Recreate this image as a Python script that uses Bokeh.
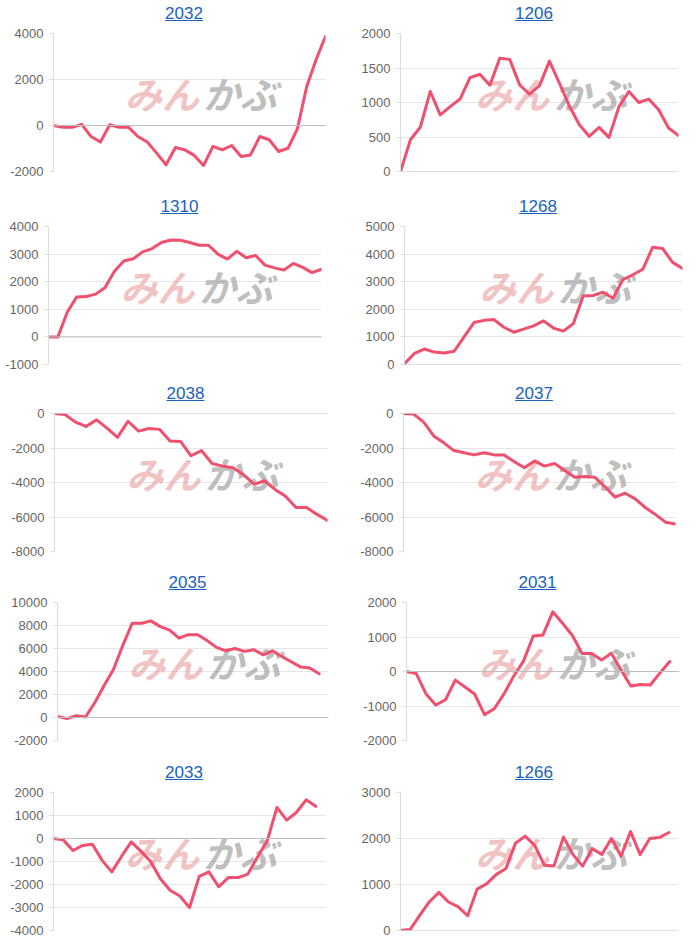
from bokeh.plotting import figure
from bokeh.models import Div, Span, FixedTicker, Range1d
from bokeh.layouts import row, column
from bokeh.embed import file_html
from bokeh.resources import INLINE
from bokeh.core.properties import value

# ---------------- data ----------------
titles = ["2032", "1206", "1310", "1268", "2038", "2037", "2035", "2031", "2033", "1266"]

s2032 = [0, -80, -80, 50, -480, -720, 30, -80, -80, -480, -720, -1200, -1710, -960, -1060,
         -1300, -1740, -910, -1060, -870, -1350, -1280, -480, -620, -1130, -990, -150, 1700, 2870, 3880]
s1206 = [0, 460, 645, 1160, 820, 940, 1050, 1360, 1410, 1250, 1640, 1625, 1255, 1120, 1245,
         1600, 1280, 950, 680, 510, 640, 495, 940, 1160, 1000, 1050, 895, 630, 520]
s1310 = [0, 0, 900, 1450, 1460, 1550, 1780, 2380, 2750, 2830, 3080, 3200, 3420, 3510, 3500,
         3420, 3320, 3320, 3000, 2820, 3100, 2870, 2950, 2600, 2500, 2420, 2660, 2520, 2330, 2450]
s1268 = [30, 400, 560, 450, 420, 480, 1000, 1520, 1600, 1630, 1350, 1170, 1280, 1400, 1580,
         1320, 1210, 1480, 2480, 2500, 2620, 2400, 3080, 3250, 3450, 4250, 4200, 3700, 3480]
s2038 = [0, -60, -500, -750, -370, -850, -1380, -450, -1020, -870, -920, -1600, -1620, -2450,
         -2150, -2900, -3050, -3150, -3550, -4100, -3900, -4400, -4800, -5450, -5450, -5850, -6200]
s2037 = [0, -30, -500, -1300, -1700, -2150, -2280, -2400, -2280, -2400, -2400, -2800, -3150, -2750,
         -3050, -2900, -3300, -3700, -3650, -3700, -4250, -4850, -4620, -4950, -5450, -5850, -6300, -6400]
s2035 = [100, -100, 150, 50, 1300, 2800, 4200, 6300, 8200, 8200, 8400, 7900, 7600, 6900, 7200,
         7200, 6700, 6100, 5800, 6000, 5750, 5900, 5450, 5800, 5300, 4850, 4400, 4300, 3800]
s2031 = [0, -60, -650, -970, -820, -250, -450, -660, -1250, -1080, -650, -130, 300, 1030, 1060,
         1730, 1400, 1050, 520, 520, 330, 530, 50, -420, -380, -390, -40, 290]
s2033 = [0, -60, -520, -300, -250, -950, -1450, -780, -150, -550, -1000, -1750, -2250, -2500, -3000,
         -1650, -1450, -2100, -1700, -1700, -1550, -800, -100, 1350, 800, 1130, 1680, 1400]
s1266 = [0, 20, 330, 620, 830, 620, 520, 320, 900, 1020, 1220, 1350, 1900, 2050, 1850,
         1420, 1400, 2030, 1650, 1400, 1780, 1650, 2000, 1620, 2150, 1650, 2000, 2020, 2130]

series = [s2032, s1206, s1310, s1268, s2038, s2037, s2035, s2031, s2033, s1266]

# number of category slots on each x axis
label_counts = [30, 29, 30, 29, 27, 28, 30, 29, 29, 30]

y_ticks = [
    [-2000, 0, 2000, 4000],
    [0, 500, 1000, 1500, 2000],
    [-1000, 0, 1000, 2000, 3000, 4000],
    [0, 1000, 2000, 3000, 4000, 5000],
    [-8000, -6000, -4000, -2000, 0],
    [-8000, -6000, -4000, -2000, 0],
    [-2000, 0, 2000, 4000, 6000, 8000, 10000],
    [-2000, -1000, 0, 1000, 2000],
    [-4000, -3000, -2000, -1000, 0, 1000, 2000],
    [0, 1000, 2000, 3000],
]

# ---------------- layout / style ----------------
LINE_COLOR = "#f0506e"
TITLE_COLOR = "#1a62c2"
FONT = "Liberation Sans"
cell_w = [350, 350]
border_l = [53, 50, 48, 54, 54, 53, 57, 56, 53, 50]
border_r = [25, 22, 29, 18, 23, 25, 22, 21, 25, 22]
row_div_h = [23, 18, 18, 18, 18]
row_bottom = [27, 21, 23, 24, 10]
FRAME_H = 138
TOP = 10
LINE_H = 18


def make_cell(i):
    col = i % 2
    r = i // 2
    w = cell_w[col]
    vals = series[i]
    ticks = y_ticks[i]
    lo, hi = ticks[0], ticks[-1]
    n = label_counts[i]
    h = TOP + FRAME_H + row_bottom[r]

    p = figure(width=w, height=h, output_backend="svg", toolbar_location=None,
               x_range=Range1d(0, n - 1), y_range=Range1d(lo, hi),
               min_border_left=border_l[i], min_border_right=border_r[i],
               min_border_top=TOP, min_border_bottom=row_bottom[r],
               margin=(0, 0, 0, 0))
    p.xaxis.visible = False
    p.xgrid.visible = False
    p.outline_line_color = None
    p.background_fill_color = "white"
    p.border_fill_color = "white"

    ax = p.yaxis[0]
    ax.ticker = FixedTicker(ticks=ticks)
    ax.major_label_overrides = {t: str(t) for t in ticks}
    ax.axis_line_color = "#dddddd"
    ax.major_tick_line_color = "#dddddd"
    ax.major_tick_out = 4
    ax.major_tick_in = 0
    ax.minor_tick_line_color = None
    ax.major_label_standoff = 6
    ax.major_label_text_font = FONT
    ax.major_label_text_font_size = "13px"
    ax.major_label_text_color = "#666666"
    p.ygrid.grid_line_color = "#e6e6e6"
    p.ygrid.ticker = FixedTicker(ticks=ticks)

    p.add_layout(Span(location=0, dimension="width", line_color="#bdbdbd", line_width=1))

    # watermark
    wx = (n - 1)
    wy = lo + 0.57 * (hi - lo)
    p.text(x=[0.535 * wx], y=[wy], text=["みん"], text_align="right", text_baseline="middle",
           text_font=value("Noto Sans CJK JP"), text_font_size="37px", text_font_style="bold italic",
           text_color="#e89a9a", text_alpha=0.6)
    p.text(x=[0.55 * wx], y=[wy], text=["かぶ"], text_align="left", text_baseline="middle",
           text_font=value("Noto Sans CJK JP"), text_font_size="37px", text_font_style="bold italic",
           text_color="#9a9a9a", text_alpha=0.65)

    p.line(x=list(range(len(vals))), y=vals, line_color=LINE_COLOR, line_width=3,
           line_join="round", line_cap="round")

    pad = border_l[i] - border_r[i] - 10
    pad_css = f"padding-left:{pad}px;" if pad >= 0 else f"padding-right:{-pad}px;"
    dh = row_div_h[r]
    html = (f'<div style="width:{w}px;height:{dh}px;box-sizing:border-box;text-align:center;{pad_css}'
            f'padding-top:{dh - LINE_H}px;'
            f'font-family:\'{FONT}\',Arial,sans-serif;font-size:17px;line-height:{LINE_H}px;'
            f'color:{TITLE_COLOR};text-decoration:underline;">{titles[i]}</div>')
    d = Div(text=html, width=w, height=dh, margin=(0, 0, 0, 0))
    return column(d, p, spacing=0, margin=(0, 0, 0, 0))


rows = []
for r in range(5):
    rows.append(row(make_cell(2 * r), make_cell(2 * r + 1), spacing=0, margin=(0, 0, 0, 0)))
layout = column(*rows, spacing=0, margin=(0, 0, 0, 0))

open("out.html", "w").write(file_html(layout, INLINE))
